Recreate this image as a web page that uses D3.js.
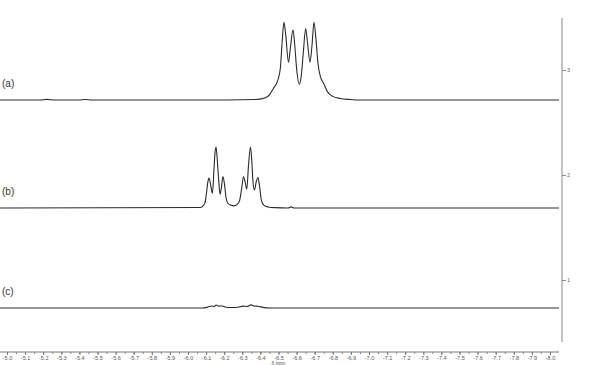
<!DOCTYPE html>
<html>
<head>
<meta charset="utf-8">
<script src="https://cdn.jsdelivr.net/npm/d3@7"></script>
<style>
  body { margin: 0; background: #fff; }
  svg { display: block; font-family: "Liberation Sans", Arial, sans-serif; }
</style>
</head>
<body>
<div id="chart"></div>
<script>
// spectra as [ppm, intensity]
var specA = [
  [-4.96, 0], [-5.18, 0], [-5.22, 0.006], [-5.265, 0], [-5.40, 0], [-5.43, 0.005], [-5.47, 0],
  [-6.07, 0], [-6.37, 0.005], [-6.425, 0.02], [-6.45, 0.05], [-6.475, 0.12], [-6.49, 0.16],
  [-6.51, 0.30], [-6.52, 0.55], [-6.53, 0.74], [-6.54, 0.62], [-6.555, 0.36], [-6.566, 0.50],
  [-6.58, 0.67], [-6.59, 0.52], [-6.60, 0.30], [-6.615, 0.15], [-6.625, 0.22], [-6.637, 0.45],
  [-6.65, 0.68], [-6.66, 0.55], [-6.674, 0.36], [-6.685, 0.52], [-6.696, 0.74], [-6.707, 0.58],
  [-6.718, 0.35], [-6.732, 0.22], [-6.749, 0.16], [-6.77, 0.08], [-6.80, 0.035], [-6.84, 0.015],
  [-6.895, 0.005], [-6.95, 0], [-8.05, 0]
];
var specB = [
  [-4.96, 0], [-6.07, 0.005], [-6.083, 0.02], [-6.094, 0.05],
  [-6.102, 0.14], [-6.11, 0.25], [-6.116, 0.285], [-6.124, 0.23], [-6.135, 0.14], [-6.143, 0.35],
  [-6.149, 0.52], [-6.155, 0.58], [-6.16, 0.50], [-6.169, 0.28], [-6.177, 0.13], [-6.185, 0.20],
  [-6.193, 0.30], [-6.202, 0.22], [-6.21, 0.10], [-6.22, 0.045], [-6.238, 0.025], [-6.254, 0.02],
  [-6.27, 0.03], [-6.285, 0.07], [-6.296, 0.18], [-6.307, 0.30], [-6.315, 0.25], [-6.325, 0.18],
  [-6.334, 0.40], [-6.345, 0.58], [-6.352, 0.46], [-6.359, 0.25], [-6.367, 0.17], [-6.377, 0.25],
  [-6.387, 0.29], [-6.395, 0.21], [-6.406, 0.07], [-6.42, 0.025], [-6.442, 0.01], [-6.48, 0.003],
  [-6.553, 0], [-6.57, 0.01], [-6.586, 0], [-8.05, 0]
];
var specC = [
  [-4.96, 0], [-6.083, 0], [-6.11, 0.01], [-6.133, 0.02], [-6.144, 0.015], [-6.155, 0.028],
  [-6.171, 0.018], [-6.188, 0.02], [-6.21, 0.008], [-6.243, 0.005], [-6.276, 0.008], [-6.304, 0.018],
  [-6.326, 0.015], [-6.348, 0.03], [-6.365, 0.02], [-6.387, 0.017], [-6.414, 0.006], [-6.453, 0],
  [-8.05, 0]
];
var spectra = [specA, specB, specC];
var offsets = [2.714, 1.686, 0.733];
var labels = ["(a)", "(b)", "(c)"];
var xTicks = d3.range(0, 31).map(function(i){ return -(50 + i) / 10; });
var xMinor = d3.range(0, 61).map(function(i){ return -(100 + i) / 20; });
var yTicks = [1, 2, 3];

function drawChart(){
    var w = 600;
    var h = 365;

    var svg = d3.select("#chart")
                .append("svg")
                .attr("width", w)
                .attr("height", h);

    var x = d3.scaleLinear()
                .domain([-5, -8])
                .range([7, 550]);

    var y = d3.scaleLinear()
                .domain([0, 3])
                .range([385, 70]);

    var line = d3.line()
                .x(function(d){ return x(d[0]); })
                .y(function(d){ return y(d[1] + d.off); })
                .curve(d3.curveMonotoneX);

    // spectra
    spectra.forEach(function(s, i){
        var pts = s.map(function(p){ var q = [p[0], p[1]]; q.off = offsets[i]; return q; });
        svg.append("path")
            .datum(pts)
            .attr("fill", "none")
            .attr("stroke", "#2a2a2a")
            .attr("stroke-width", 1.1)
            .attr("d", line);
    });

    // spectrum labels
    svg.selectAll("text.lbl")
        .data(labels)
        .enter()
        .append("text")
        .attr("class", "lbl")
        .attr("x", 2)
        .attr("y", function(d, i){ return y(offsets[i]) - 13; })
        .attr("font-size", 10)
        .attr("fill", "#333")
        .text(function(d){ return d; });

    // x axis
    var axisY = 352;
    svg.append("line")
        .attr("x1", 0).attr("x2", 559)
        .attr("y1", axisY).attr("y2", axisY)
        .attr("stroke", "#777").attr("stroke-width", 1);

    var gMinor = svg.append("g")
        .attr("transform", "translate(0," + axisY + ")")
        .call(d3.axisBottom(x).tickValues(xMinor).tickSize(2).tickFormat(""));
    gMinor.select(".domain").remove();
    gMinor.selectAll("line").attr("stroke", "#888");

    var gx = svg.append("g")
        .attr("transform", "translate(0," + axisY + ")")
        .call(d3.axisBottom(x).tickValues(xTicks).tickSize(3).tickPadding(1.5)
              .tickFormat(function(d){ return d.toFixed(1); }));
    gx.select(".domain").remove();
    gx.selectAll("line").attr("stroke", "#777");
    gx.selectAll("text")
        .attr("font-size", 5.5)
        .attr("font-family", "Liberation Sans, Arial, sans-serif")
        .attr("fill", "#555");

    svg.append("text")
        .attr("x", x(-6.5))
        .attr("y", 365)
        .attr("text-anchor", "middle")
        .attr("font-size", 5)
        .attr("fill", "#555")
        .text("δ ppm");

    // right axis
    var axisX = 562;
    svg.append("line")
        .attr("x1", axisX).attr("x2", axisX)
        .attr("y1", 18).attr("y2", 342)
        .attr("stroke", "#888").attr("stroke-width", 1);

    var gy = svg.append("g")
        .attr("transform", "translate(" + axisX + ",0)")
        .call(d3.axisRight(y).tickValues(yTicks).tickSize(4).tickPadding(1)
              .tickFormat(d3.format("d")));
    gy.select(".domain").remove();
    gy.selectAll("line").attr("stroke", "#888");
    gy.selectAll("text")
        .attr("font-size", 5.5)
        .attr("font-family", "Liberation Sans, Arial, sans-serif")
        .attr("fill", "#666");
}

window.onload = drawChart;
</script>
</body>
</html>
